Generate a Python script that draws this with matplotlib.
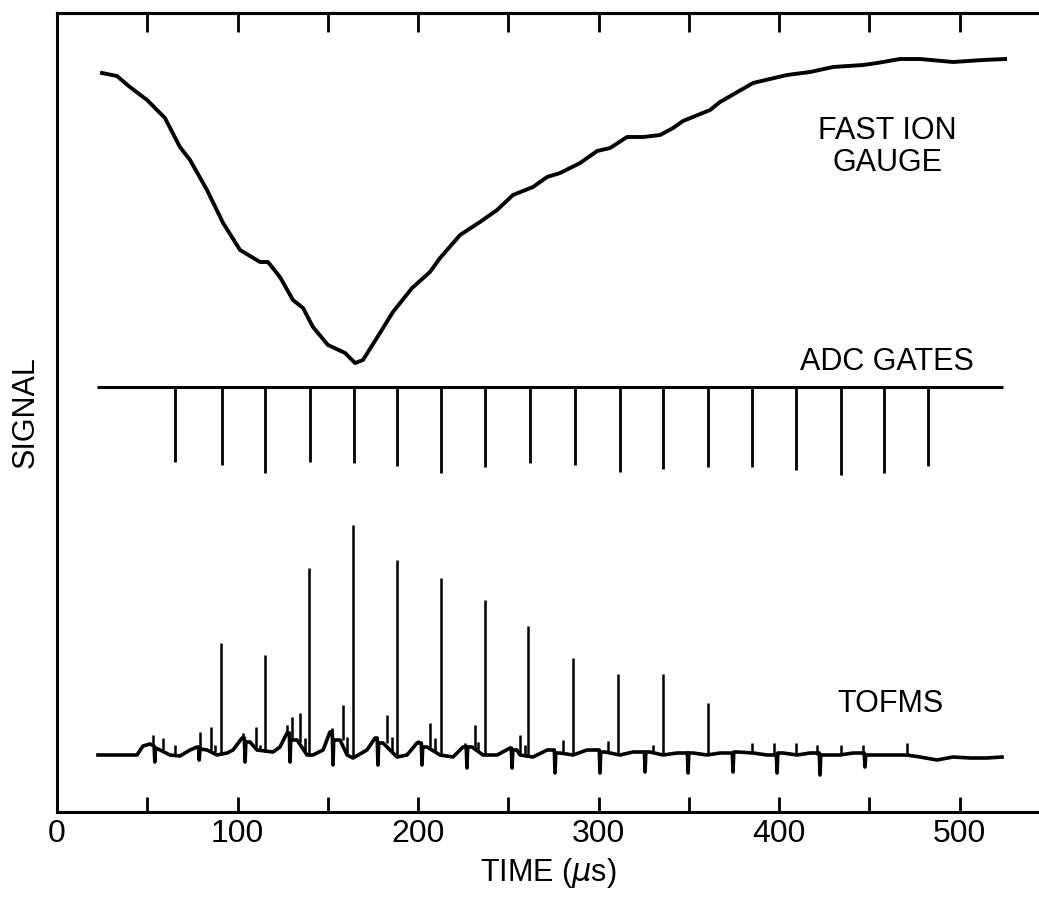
import numpy as np
import matplotlib
matplotlib.use("Agg")
import matplotlib.pyplot as plt
from matplotlib.ticker import MultipleLocator

plt.rcParams['font.family'] = ['Liberation Sans', 'DejaVu Sans']

# fast ion gauge trace (time in us, signal in arbitrary units)
fig_t = [24.9, 33.2, 40.4, 49.9, 59.8, 68.1, 73.7, 83.1, 92.0, 101.4, 112.5, 116.9,
         123.5, 130.7, 136.3, 141.8, 150.1, 159.6, 165.1, 169.5, 178.9, 186.1, 196.7,
         206.6, 212.2, 223.3, 234.3, 243.8, 252.6, 263.7, 271.5, 278.7, 289.8, 299.2,
         306.4, 315.8, 324.7, 334.1, 341.3, 346.8, 361.8, 367.3, 385.6, 404.4, 417.2,
         429.9, 446.5, 454.3, 467.0, 478.1, 496.4, 513.0, 525.2]
fig_y = [739, 736, 725, 712, 694, 665, 652, 622, 589, 562, 550, 550,
         535, 512, 504, 485, 467, 459, 449, 452, 479, 500, 524,
         540, 554, 577, 590, 602, 617, 625, 635, 639, 649, 661,
         664, 675, 675, 677, 684, 691, 702, 710, 729, 737, 740,
         745, 747, 749, 753, 753, 750, 752, 753]

# ADC gates
adc_level = 425
adc_start, adc_end = 22.0, 524.0
gate_t = [65.4, 91.4, 115.2, 140.2, 164.5, 188.4, 212.7, 237.1, 262.0,
          287.0, 311.9, 335.7, 360.7, 385.0, 409.4, 434.3, 458.2, 482.5]
gate_low = [350, 347, 339, 350, 349, 346, 339, 345, 349,
            347, 340, 343, 345, 345, 342, 337, 339, 346]

# TOFMS baseline (with the narrow negative dips)
tof_t = [22.7, 44.3, 47.6, 51.5, 53.8, 54.2, 54.6, 57.1, 62.6, 68.1, 73.7, 77.6,
         78.4, 78.8, 79.2, 83.1, 88.6, 94.2, 97.5, 102.5, 103.8, 104.2, 104.6,
         106.9, 110.8, 119.7, 123.5, 127.4, 128.7, 129.1, 129.5, 133.0, 138.5,
         141.8, 147.4, 151.2, 152.5, 152.9, 153.3, 156.8, 160.7, 164.0, 171.7,
         176.2, 177.4, 177.8, 178.2, 180.6, 188.4, 193.9, 199.4, 201.8, 202.2,
         202.6, 205.0, 212.2, 219.4, 224.9, 226.7, 227.1, 227.5, 229.9, 236.0,
         243.8, 251.0, 251.7, 252.1, 252.5, 254.8, 256.5, 263.7, 271.5, 275.5,
         275.9, 276.3, 278.7, 285.9, 293.6, 300.4, 300.8, 301.2, 303.6, 311.9,
         319.1, 325.4, 325.8, 326.2, 328.5, 335.7, 343.5, 349.2, 349.6, 350.0,
         352.4, 360.1, 367.3, 374.1, 374.5, 374.9, 377.3, 385.6, 393.4, 398.5,
         398.9, 399.3, 402.2, 410.0, 417.2, 422.3, 422.7, 423.1, 425.5, 433.8,
         441.0, 447.2, 447.6, 448.0, 450.4, 459.8, 470.9, 478.1, 487.5, 496.4,
         505.8, 515.2, 523.5]
tof_y = [57, 57, 66, 68, 66, 50, 64, 62, 57, 56, 62, 65,
         65, 52, 63, 62, 57, 59, 62, 74, 74, 50, 70,
         70, 62, 60, 65, 79, 79, 50, 72, 72, 57,
         57, 62, 80, 80, 47, 72, 72, 57, 54, 62,
         74, 74, 47, 69, 69, 55, 57, 69, 69, 47,
         65, 65, 57, 55, 65, 65, 44, 65, 65, 57,
         57, 64, 64, 44, 62, 62, 57, 55, 62, 62,
         39, 59, 59, 57, 62, 62, 39, 60, 60, 57,
         60, 60, 40, 60, 60, 57, 59, 59, 39, 59,
         59, 57, 59, 59, 40, 60, 60, 59, 57, 57,
         39, 59, 59, 57, 59, 59, 37, 57, 57, 57,
         59, 59, 45, 57, 57, 57, 57, 55, 52, 55,
         54, 54, 55]

# TOFMS spikes: position, foot and top
spk_t = [53.2, 58.7, 65.4, 79.2, 85.3, 87.5, 90.9, 103.0, 110.2, 112.5, 115.2,
         127.4, 130.2, 134.6, 137.4, 139.6, 152.4, 158.4, 160.7, 164.0, 182.8,
         185.6, 188.4, 200.0, 206.6, 209.4, 212.7, 226.0, 231.6, 233.2, 237.1,
         256.5, 259.3, 261.0, 280.3, 285.9, 305.3, 310.8, 330.2, 335.7, 360.7,
         385.0, 397.0, 409.4, 421.0, 434.3, 446.5, 470.9]
spk_low = [68, 62, 57, 64, 62, 60, 57, 74, 62, 62, 60,
           79, 72, 70, 60, 57, 80, 72, 57, 54, 69,
           60, 55, 69, 65, 60, 57, 65, 62, 60, 57,
           57, 57, 55, 59, 57, 60, 57, 60, 57, 57,
           59, 57, 57, 57, 57, 57, 57]
spk_top = [77, 74, 67, 80, 85, 67, 169, 79, 85, 67, 157,
           87, 95, 99, 74, 244, 84, 107, 75, 287, 97,
           75, 252, 72, 89, 74, 234, 69, 87, 70, 212,
           77, 67, 186, 72, 154, 71, 138, 67, 138, 109,
           69, 69, 69, 67, 67, 67, 69]

fig = plt.figure(figsize=(10.39, 8.98), dpi=100)
ax = fig.add_axes([57 / 1039, 86 / 898, 1 - 57 / 1039, 799 / 898])

ax.plot(fig_t, fig_y, color='black', lw=2.8, solid_joinstyle='round')
ax.hlines(adc_level, adc_start, adc_end, color='black', lw=2.2)
ax.vlines(gate_t, gate_low, adc_level, color='black', lw=2.0)
ax.plot(tof_t, tof_y, color='black', lw=2.6, solid_joinstyle='round')
ax.vlines(spk_t, spk_low, spk_top, color='black', lw=1.8)

ax.text(460, 665, 'FAST ION\nGAUGE', ha='center', va='center', fontsize=22, linespacing=1.1)
ax.text(460, 450, 'ADC GATES', ha='center', va='center', fontsize=22)
ax.text(462, 108, 'TOFMS', ha='center', va='center', fontsize=22)

ax.set_xlim(0, 544)
ax.set_ylim(0, 799)
ax.xaxis.set_major_locator(MultipleLocator(100))
ax.xaxis.set_minor_locator(MultipleLocator(50))
ax.set_yticks([])
ax.tick_params(axis='x', which='both', direction='in', length=11, width=2.0,
               labelsize=23, pad=5)
ax.spines['right'].set_visible(False)
for s in ['left', 'top', 'bottom']:
    ax.spines[s].set_linewidth(2.2)

top = ax.secondary_xaxis('top')
top.set_xticks(np.arange(50, 501, 50))
top.tick_params(direction='in', length=14, width=2.0, labeltop=False)
top.spines['top'].set_linewidth(2.2)

ax.set_xlabel('TIME ($\\mu$s)', fontsize=22, labelpad=5)
ax.set_ylabel('SIGNAL', fontsize=22, labelpad=12)

fig.savefig('out.png', dpi=100)
